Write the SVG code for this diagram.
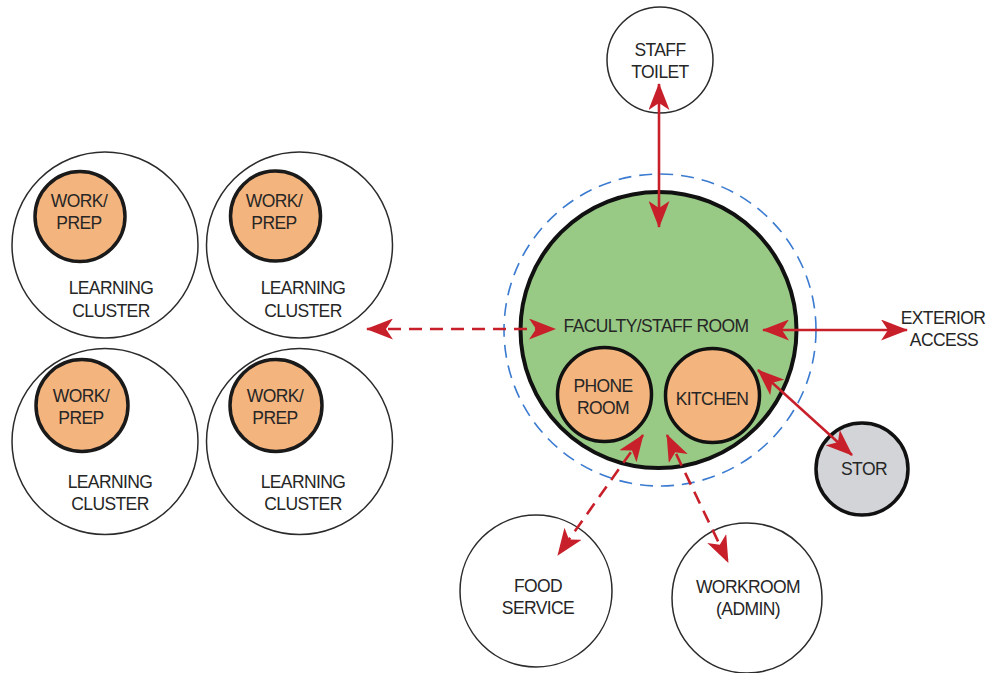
<svg xmlns="http://www.w3.org/2000/svg" width="1005" height="673" viewBox="0 0 1005 673">
<style>
text{font-family:"Liberation Sans",Arial,sans-serif;font-size:17.5px;letter-spacing:-0.6px;fill:#262626;text-anchor:middle}
.outer{fill:#fff;stroke:#2b2b2b;stroke-width:1.5}
.work{fill:#f4b47d;stroke:#1a1a1a;stroke-width:3.5}
.main{fill:#98c985;stroke:#111;stroke-width:4}
.sub{fill:#f4b47d;stroke:#111;stroke-width:3.5}
.stor{fill:#d2d4d8;stroke:#111;stroke-width:3.5}
.halo{fill:none;stroke:#3b7bd0;stroke-width:1.6;stroke-dasharray:13 8}
.con{fill:none;stroke:#c8202a;stroke-width:2.6;marker-start:url(#ah);marker-end:url(#ah)}
.dash{stroke-dasharray:13 8}
</style>
<defs>
<marker id="ah" viewBox="0 0 27 21" refX="26" refY="10.5" markerWidth="27" markerHeight="21" markerUnits="userSpaceOnUse" orient="auto-start-reverse">
<path d="M0,0 L27,10.5 L0,21 L7,10.5 Z" fill="#c8202a"/>
</marker>
</defs>
<rect width="1005" height="673" fill="#fff"/>

<g id="cluster-1">
<circle class="outer" cx="105" cy="245" r="93"/>
<circle class="work" cx="80" cy="216.5" r="45"/>
<text x="79" y="207">WORK/</text><text x="79" y="229">PREP</text>
<text x="111" y="294">LEARNING</text><text x="111" y="317">CLUSTER</text>
</g>
<g id="cluster-2">
<circle class="outer" cx="299.5" cy="245" r="93"/>
<circle class="work" cx="275.5" cy="216" r="45"/>
<text x="274" y="207">WORK/</text><text x="274" y="229">PREP</text>
<text x="303" y="294">LEARNING</text><text x="303" y="317">CLUSTER</text>
</g>
<g id="cluster-3">
<circle class="outer" cx="105" cy="441.5" r="93"/>
<circle class="work" cx="82" cy="405.5" r="46"/>
<text x="81" y="402">WORK/</text><text x="81" y="424">PREP</text>
<text x="110" y="488">LEARNING</text><text x="110" y="510">CLUSTER</text>
</g>
<g id="cluster-4">
<circle class="outer" cx="299.5" cy="441.5" r="93"/>
<circle class="work" cx="276" cy="405.5" r="46"/>
<text x="275" y="402">WORK/</text><text x="275" y="424">PREP</text>
<text x="303" y="488">LEARNING</text><text x="303" y="510">CLUSTER</text>
</g>

<g id="staff-toilet">
<circle class="outer" cx="660" cy="60" r="53"/>
<text x="660" y="56">STAFF</text><text x="660" y="78">TOILET</text>
</g>

<g id="faculty-staff-room">
<circle class="halo" cx="660" cy="330" r="156"/>
<circle class="main" cx="658.5" cy="330" r="138"/>
<text x="656" y="332">FACULTY/STAFF ROOM</text>
</g>
<g id="phone-room">
<circle class="sub" cx="604.5" cy="394.5" r="47"/>
<text x="603" y="392">PHONE</text><text x="603" y="414">ROOM</text>
</g>
<g id="kitchen">
<circle class="sub" cx="712.5" cy="395.5" r="47"/>
<text x="712" y="405">KITCHEN</text>
</g>
<g id="stor">
<circle class="stor" cx="862" cy="469" r="46"/>
<text x="864" y="475">STOR</text>
</g>
<g id="exterior-access">
<text x="943" y="324">EXTERIOR</text><text x="944" y="346">ACCESS</text>
</g>
<g id="food-service">
<circle class="outer" cx="536" cy="591" r="76"/>
<text x="538" y="592">FOOD</text><text x="538" y="614">SERVICE</text>
</g>
<g id="workroom">
<circle class="outer" cx="747" cy="598" r="75"/>
<text x="748" y="593">WORKROOM</text><text x="748" y="615">(ADMIN)</text>
</g>

<g id="connectors">
<line class="con" x1="659" y1="84" x2="659" y2="227"/>
<line class="con dash" x1="367" y1="329" x2="555" y2="329"/>
<line class="con" x1="763" y1="330" x2="907" y2="330"/>
<line class="con" x1="758" y1="370" x2="852" y2="455"/>
<line class="con dash" x1="643" y1="435" x2="558" y2="555"/>
<line class="con dash" x1="667" y1="435" x2="728" y2="562"/>
</g>
</svg>
